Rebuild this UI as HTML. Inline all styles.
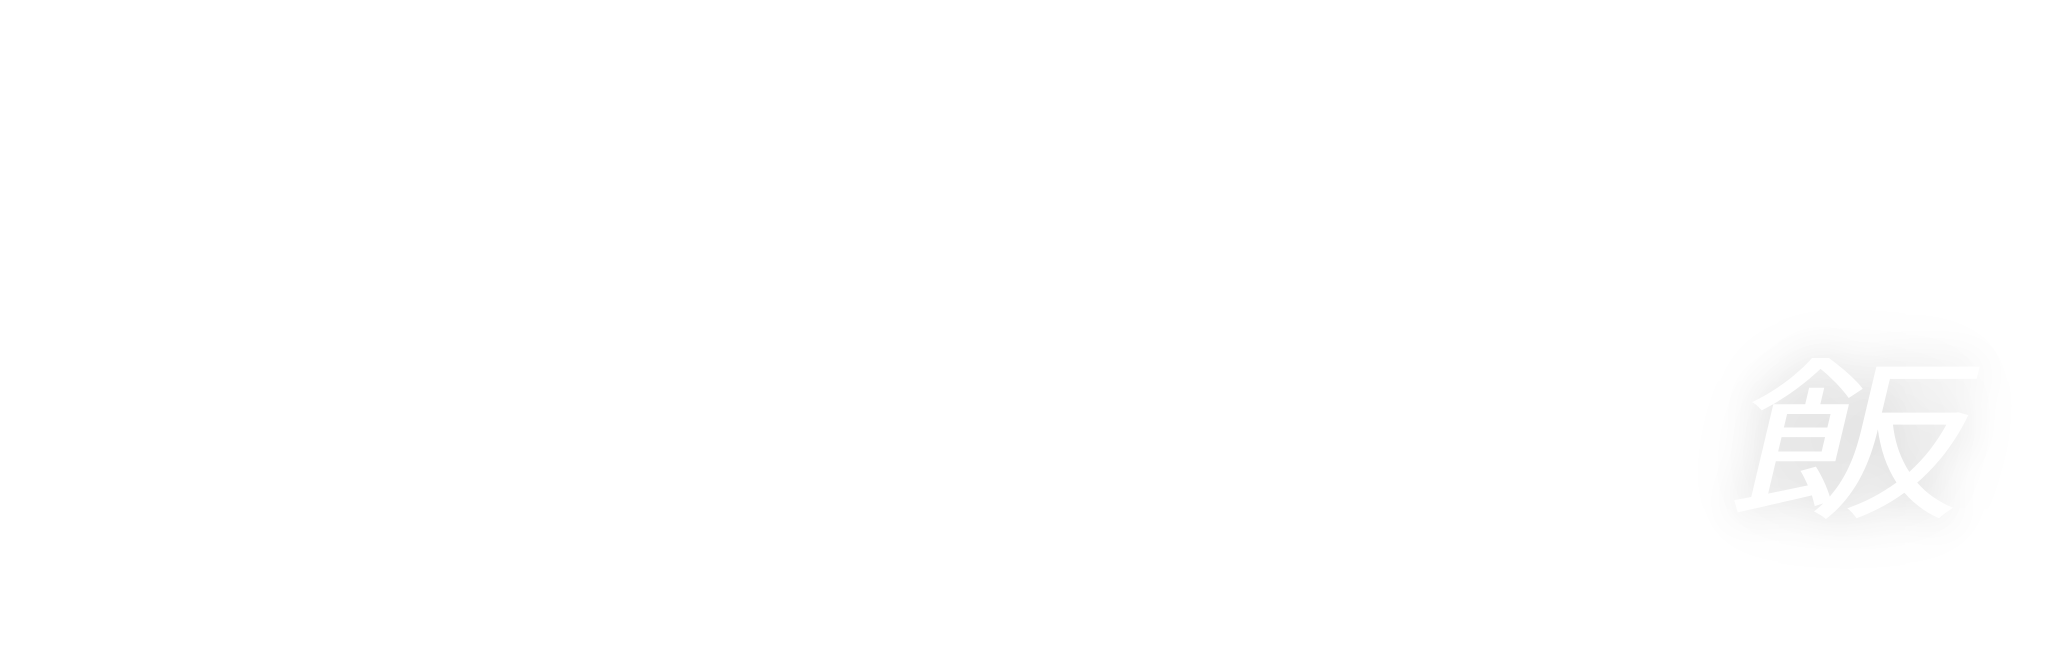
<!DOCTYPE html>
<html><head><meta charset="utf-8">
<style>
html,body{margin:0;padding:0;background:#fff;width:2060px;height:672px;overflow:hidden;}
.c{position:absolute;left:1656px;top:346px;width:400px;height:200px;
font-family:"Liberation Sans","Noto Sans CJK JP",sans-serif;font-size:175px;line-height:200px;text-align:center;
color:#fff;font-weight:normal;
text-shadow:0 0 35px rgba(0,0,0,0.12),0 0 70px rgba(0,0,0,0.08);
transform:scaleX(1.35) skewX(-10deg);}
</style></head>
<body>
<div class="c">飯</div>
</body></html>
